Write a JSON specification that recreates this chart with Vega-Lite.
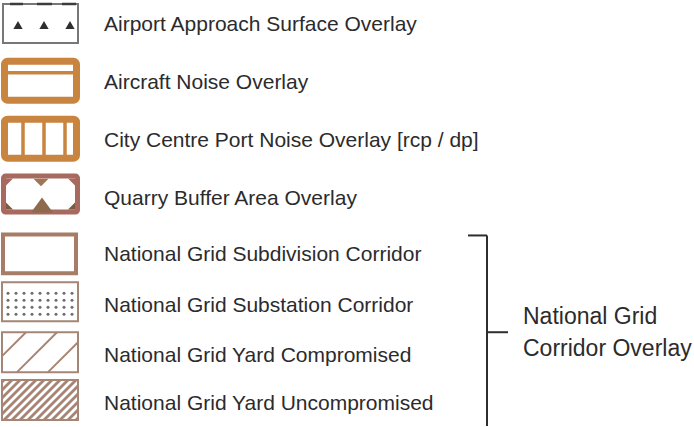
{
  "$schema": "https://vega.github.io/schema/vega-lite/v6.json",
  "width": 694,
  "height": 427,
  "autosize": {"type": "fit", "contains": "padding"},
  "padding": 0,
  "background": "white",
  "config": {"view": {"stroke": null}},
  "datasets": {
    "frameGray": [{"x": 3, "x2": 78, "y": 4, "y2": 43}],
    "dashTop": [
      {"x": 10, "x2": 23, "y": 4, "y2": 4},
      {"x": 37, "x2": 52, "y": 4, "y2": 4},
      {"x": 62, "x2": 76, "y": 4, "y2": 4}
    ],
    "airportTri": [{"x": 18, "y": 25}, {"x": 44, "y": 25}, {"x": 70, "y": 25}],
    "frameOrange": [
      {"x": 4.5, "x2": 76.5, "y": 61.5, "y2": 100.5},
      {"x": 4.5, "x2": 76.5, "y": 119.5, "y2": 158.5}
    ],
    "orangeRules": [
      {"x": 4.5, "x2": 76.5, "y": 73, "y2": 73},
      {"x": 23, "x2": 23, "y": 119.5, "y2": 158.5},
      {"x": 44, "x2": 44, "y": 119.5, "y2": 158.5},
      {"x": 65, "x2": 65, "y": 119.5, "y2": 158.5}
    ],
    "frameQuarry": [{"x": 3.5, "x2": 77.5, "y": 176.5, "y2": 212.5}],
    "quarryTop": [{"x": 41, "y": 183}],
    "quarryBottom": [{"x": 42, "y": 205.5}],
    "cornerTL": [{"x": 9.5, "y": 182.5}],
    "cornerTR": [{"x": 71.5, "y": 182.5}],
    "cornerBL": [{"x": 9.5, "y": 206.5}],
    "cornerBR": [{"x": 71.5, "y": 206.5}],
    "frameBrown": [{"x": 3, "x2": 76, "y": 235, "y2": 274}],
    "frameThin": [
      {"x": 2, "x2": 78, "y": 283, "y2": 322},
      {"x": 2, "x2": 78, "y": 333, "y2": 373},
      {"x": 2, "x2": 78, "y": 381, "y2": 421}
    ],
    "dots": [
      {"x": 8, "y": 294}, {"x": 16, "y": 294}, {"x": 24, "y": 294}, {"x": 32, "y": 294}, {"x": 40, "y": 294}, {"x": 48, "y": 294}, {"x": 56, "y": 294}, {"x": 64, "y": 294}, {"x": 72, "y": 294},
      {"x": 8, "y": 301}, {"x": 16, "y": 301}, {"x": 24, "y": 301}, {"x": 32, "y": 301}, {"x": 40, "y": 301}, {"x": 48, "y": 301}, {"x": 56, "y": 301}, {"x": 64, "y": 301}, {"x": 72, "y": 301},
      {"x": 8, "y": 308}, {"x": 16, "y": 308}, {"x": 24, "y": 308}, {"x": 32, "y": 308}, {"x": 40, "y": 308}, {"x": 48, "y": 308}, {"x": 56, "y": 308}, {"x": 64, "y": 308}, {"x": 72, "y": 308},
      {"x": 8, "y": 315}, {"x": 16, "y": 315}, {"x": 24, "y": 315}, {"x": 32, "y": 315}, {"x": 40, "y": 315}, {"x": 48, "y": 315}, {"x": 56, "y": 315}, {"x": 64, "y": 315}, {"x": 72, "y": 315}
    ],
    "hatchLight": [
      {"x": 2, "y": 357, "x2": 26, "y2": 333},
      {"x": 17, "y": 373, "x2": 57, "y2": 333},
      {"x": 48, "y": 373, "x2": 78, "y2": 343}
    ],
    "hatchDense": [
      {"x": 2, "y": 383, "x2": 4, "y2": 381},
      {"x": 2, "y": 391, "x2": 12, "y2": 381},
      {"x": 2, "y": 399, "x2": 20, "y2": 381},
      {"x": 2, "y": 407, "x2": 28, "y2": 381},
      {"x": 2, "y": 415, "x2": 36, "y2": 381},
      {"x": 4, "y": 421, "x2": 44, "y2": 381},
      {"x": 12, "y": 421, "x2": 52, "y2": 381},
      {"x": 20, "y": 421, "x2": 60, "y2": 381},
      {"x": 28, "y": 421, "x2": 68, "y2": 381},
      {"x": 36, "y": 421, "x2": 76, "y2": 381},
      {"x": 44, "y": 421, "x2": 78, "y2": 387},
      {"x": 52, "y": 421, "x2": 78, "y2": 395},
      {"x": 60, "y": 421, "x2": 78, "y2": 403},
      {"x": 68, "y": 421, "x2": 78, "y2": 411},
      {"x": 76, "y": 421, "x2": 78, "y2": 419}
    ],
    "bracket": [
      {"x": 468, "x2": 487, "y": 236, "y2": 236},
      {"x": 487, "x2": 487, "y": 236, "y2": 427},
      {"x": 487, "x2": 508, "y": 333, "y2": 333}
    ],
    "labels": [
      {"x": 104, "y": 25, "label": "Airport Approach Surface Overlay"},
      {"x": 104, "y": 83, "label": "Aircraft Noise Overlay"},
      {"x": 104, "y": 141, "label": "City Centre Port Noise Overlay [rcp / dp]"},
      {"x": 104, "y": 199, "label": "Quarry Buffer Area Overlay"},
      {"x": 104, "y": 256, "label": "National Grid Subdivision Corridor"},
      {"x": 104, "y": 307, "label": "National Grid Substation Corridor"},
      {"x": 104, "y": 357, "label": "National Grid Yard Compromised"},
      {"x": 104, "y": 405, "label": "National Grid Yard Uncompromised"}
    ],
    "groupLabel": [
      {"x": 523, "y": 318, "label": "National Grid"},
      {"x": 523, "y": 350, "label": "Corridor Overlay"}
    ]
  },
  "encoding": {
    "x": {"field": "x", "type": "quantitative", "scale": {"domain": [0, 694], "nice": false, "zero": false}, "axis": null},
    "y": {"field": "y", "type": "quantitative", "scale": {"domain": [0, 427], "reverse": true, "nice": false, "zero": false}, "axis": null}
  },
  "layer": [
    {"data": {"name": "frameGray"}, "mark": {"type": "rect", "fill": "white", "stroke": "#77777a", "strokeWidth": 2},
     "encoding": {"x2": {"field": "x2"}, "y2": {"field": "y2"}}},
    {"data": {"name": "dashTop"}, "mark": {"type": "rule", "stroke": "#3c3c40", "strokeWidth": 2.5},
     "encoding": {"x2": {"field": "x2"}, "y2": {"field": "y2"}}},
    {"data": {"name": "airportTri"}, "mark": {"type": "point", "shape": "triangle-up", "filled": true, "fill": "#2e2e30", "opacity": 1, "size": 85}},
    {"data": {"name": "frameOrange"}, "mark": {"type": "rect", "fill": "white", "stroke": "#c98540", "strokeWidth": 7, "cornerRadius": 3},
     "encoding": {"x2": {"field": "x2"}, "y2": {"field": "y2"}}},
    {"data": {"name": "orangeRules"}, "mark": {"type": "rule", "stroke": "#c98540", "strokeWidth": 3.5},
     "encoding": {"x2": {"field": "x2"}, "y2": {"field": "y2"}}},
    {"data": {"name": "frameQuarry"}, "mark": {"type": "rect", "fill": "white", "stroke": "#a8695f", "strokeWidth": 5, "cornerRadius": 2},
     "encoding": {"x2": {"field": "x2"}, "y2": {"field": "y2"}}},
    {"data": {"name": "quarryTop"}, "mark": {"type": "point", "shape": "M -1 -0.5 L 1 -0.5 L 0 0.5 Z", "filled": true, "fill": "#9c7656", "opacity": 1, "size": 225}},
    {"data": {"name": "quarryBottom"}, "mark": {"type": "point", "shape": "M 0 -0.68 L 1 0.68 L -1 0.68 Z", "filled": true, "fill": "#8e6a4c", "opacity": 1, "size": 484}},
    {"data": {"name": "cornerTL"}, "mark": {"type": "point", "shape": "M -1 -1 L 1 -1 L -1 1 Z", "filled": true, "fill": "#a8695f", "opacity": 1, "size": 49}},
    {"data": {"name": "cornerTR"}, "mark": {"type": "point", "shape": "M -1 -1 L 1 -1 L 1 1 Z", "filled": true, "fill": "#a8695f", "opacity": 1, "size": 49}},
    {"data": {"name": "cornerBL"}, "mark": {"type": "point", "shape": "M -1 -1 L -1 1 L 1 1 Z", "filled": true, "fill": "#7c5a40", "opacity": 1, "size": 49}},
    {"data": {"name": "cornerBR"}, "mark": {"type": "point", "shape": "M 1 -1 L 1 1 L -1 1 Z", "filled": true, "fill": "#7c5a40", "opacity": 1, "size": 49}},
    {"data": {"name": "frameBrown"}, "mark": {"type": "rect", "fill": "white", "stroke": "#a67d66", "strokeWidth": 4},
     "encoding": {"x2": {"field": "x2"}, "y2": {"field": "y2"}}},
    {"data": {"name": "frameThin"}, "mark": {"type": "rect", "fill": "white", "stroke": "#a48676", "strokeWidth": 2},
     "encoding": {"x2": {"field": "x2"}, "y2": {"field": "y2"}}},
    {"data": {"name": "dots"}, "mark": {"type": "circle", "fill": "#6e6e70", "opacity": 1, "size": 9}},
    {"data": {"name": "hatchLight"}, "mark": {"type": "rule", "stroke": "#a88474", "strokeWidth": 2},
     "encoding": {"x2": {"field": "x2"}, "y2": {"field": "y2"}}},
    {"data": {"name": "hatchDense"}, "mark": {"type": "rule", "stroke": "#a88474", "strokeWidth": 2.8},
     "encoding": {"x2": {"field": "x2"}, "y2": {"field": "y2"}}},
    {"data": {"name": "bracket"}, "mark": {"type": "rule", "stroke": "#2e2e30", "strokeWidth": 2},
     "encoding": {"x2": {"field": "x2"}, "y2": {"field": "y2"}}},
    {"data": {"name": "labels"}, "mark": {"type": "text", "align": "left", "baseline": "middle", "font": "Liberation Sans", "fontSize": 21, "fill": "#2b2b2d"},
     "encoding": {"text": {"field": "label"}}},
    {"data": {"name": "groupLabel"}, "mark": {"type": "text", "align": "left", "baseline": "middle", "font": "Liberation Sans", "fontSize": 23, "fill": "#2b2b2d"},
     "encoding": {"text": {"field": "label"}}}
  ]
}
